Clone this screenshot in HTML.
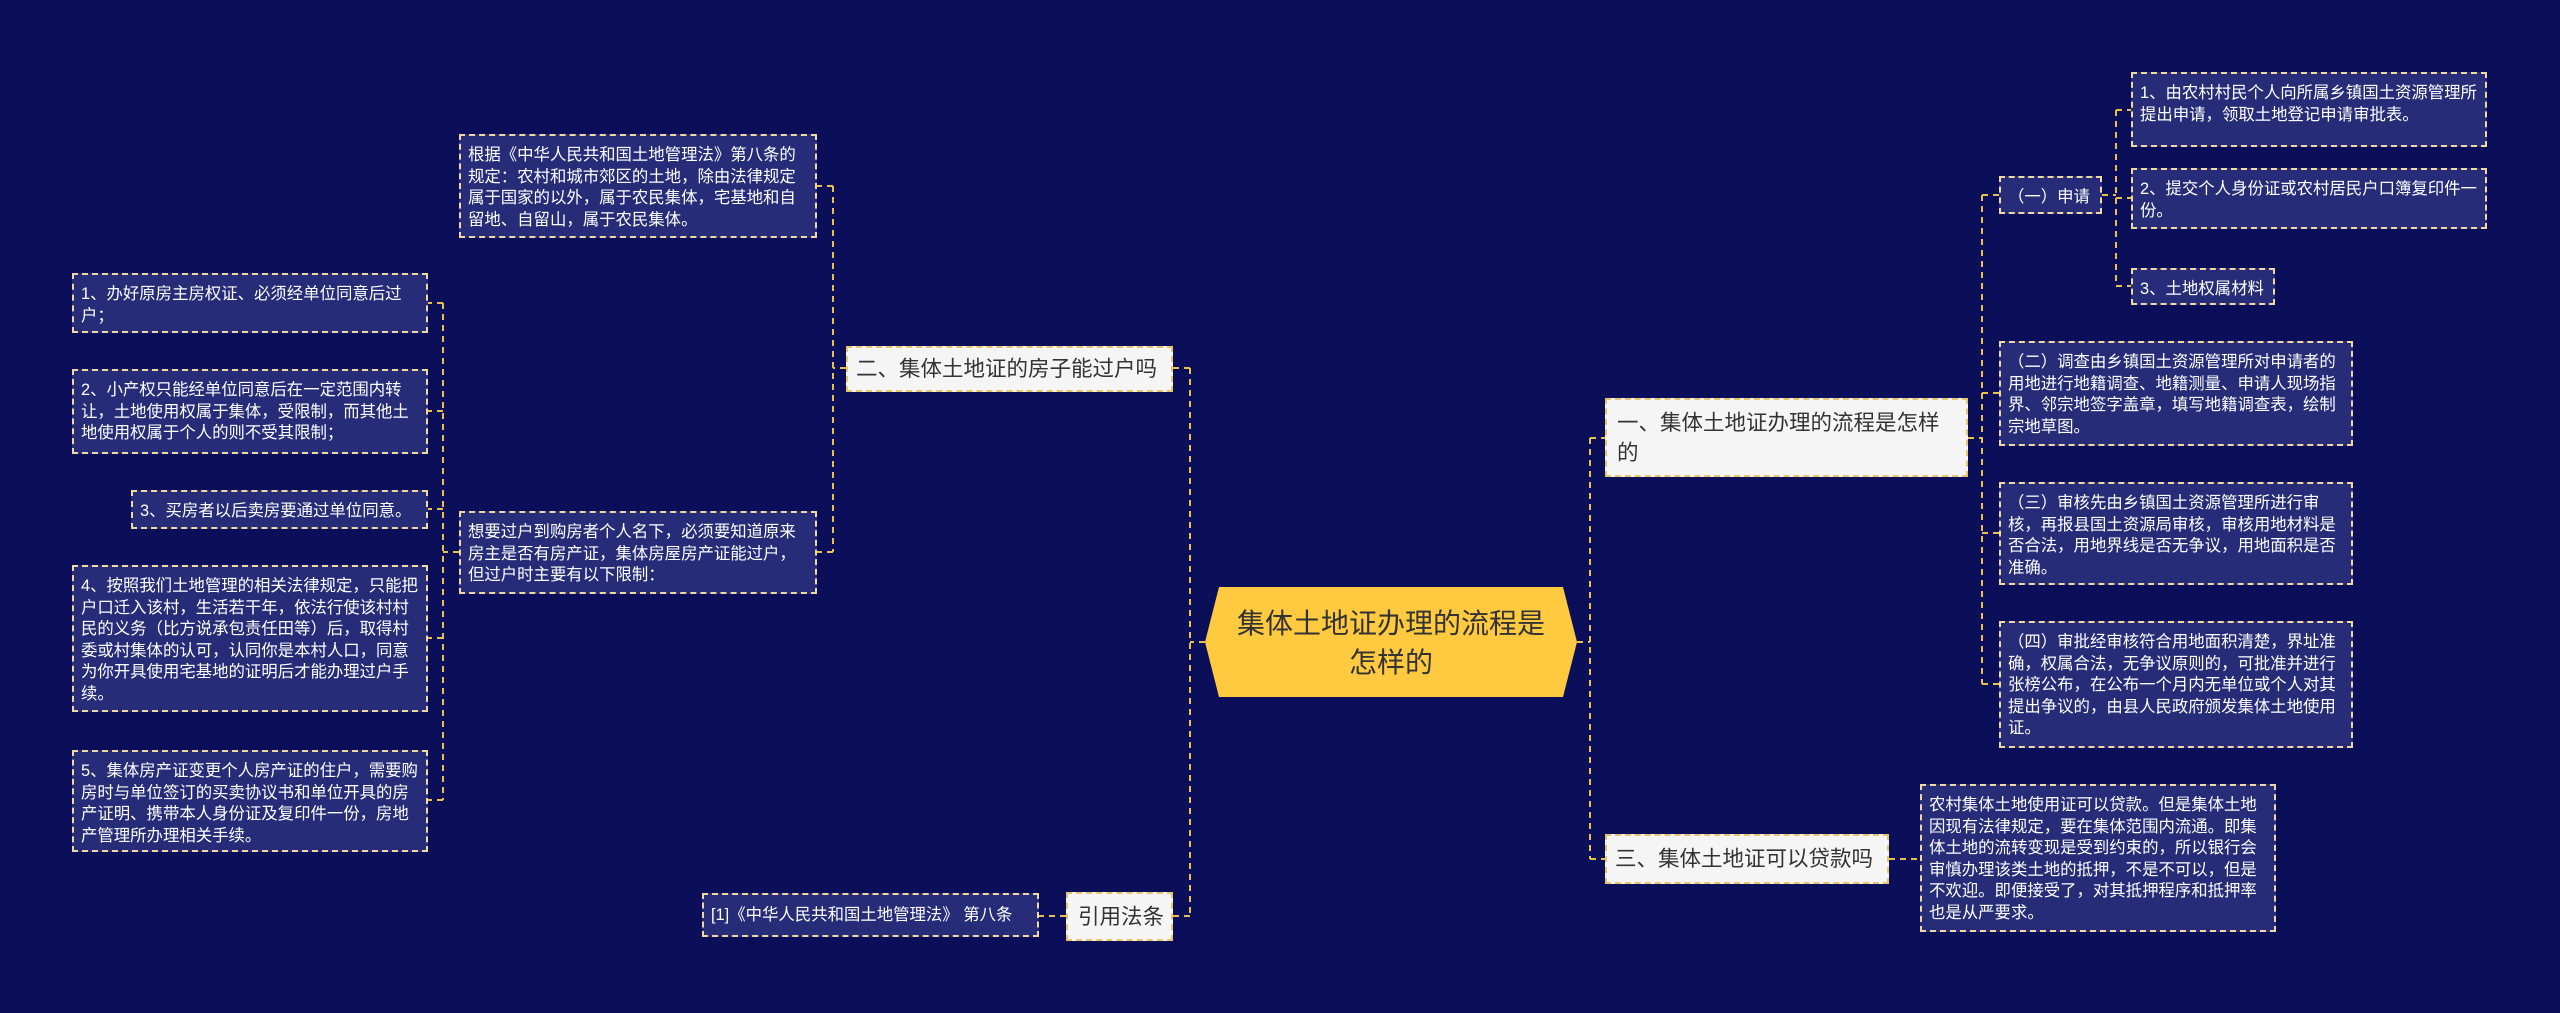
<!DOCTYPE html>
<html><head><meta charset="utf-8">
<style>
html,body{margin:0;padding:0}
body{width:2560px;height:1013px;background:#0b0e59;position:relative;overflow:hidden;font-family:"Liberation Sans","Noto Sans CJK SC",sans-serif}
.b{position:absolute;box-sizing:border-box;border:2px dashed #f0d8a0}
.leaf{background:#262c78;color:#fff;font-size:16.4px;line-height:21.6px;padding:9px 6px 7px 7px;}
.br{background:#f5f5f5;color:#333;font-size:21.5px;line-height:30px;padding:8px 8px;border-color:#e8c46a}
.nw{white-space:nowrap}
svg{position:absolute;left:0;top:0}
</style></head><body>
<svg width="2560" height="1013">
<g fill="none" stroke="#e8c050" stroke-width="2" stroke-dasharray="6,5">
<path d="M1205 642 H1190 M1190 368 V916 M1190 368 H1173 M1190 916 H1173"/>
<path d="M1577 642 H1590 M1590 438 V859 M1590 438 H1605 M1590 859 H1605"/>
<path d="M846 368 H833 M833 186 V552 M833 186 H817 M833 552 H817"/>
<path d="M459 552 H443 M443 303 V800 M443 303 H428 M443 411 H428 M443 509 H428 M443 638 H428 M443 800 H428"/>
<path d="M1066 916 H1039"/>
<path d="M1968 438 H1982 M1982 195 V684 M1982 195 H1999 M1982 393 H1999 M1982 533 H1999 M1982 684 H1999"/>
<path d="M2102 195 H2116 M2116 110 V286 M2116 110 H2131 M2116 198 H2131 M2116 286 H2131"/>
<path d="M1889 859 H1920"/>
</g>
<polygon points="1219,587 1563,587 1577,642 1563,697 1219,697 1205,642" fill="#ffc940"/>
<text x="1391" y="633" font-size="28" fill="#333" text-anchor="middle" font-family="Liberation Sans, Noto Sans CJK SC, sans-serif">集体土地证办理的流程是</text>
<text x="1391" y="672" font-size="28" fill="#333" text-anchor="middle" font-family="Liberation Sans, Noto Sans CJK SC, sans-serif">怎样的</text>
</svg>

<div class="b br nw" style="left:846px;top:346px;width:327px;height:46px;padding-top:6px">二、集体土地证的房子能过户吗</div>
<div class="b br nw" style="left:1066px;top:892px;width:107px;height:49px;padding-top:8px;padding-left:10px">引用法条</div>
<div class="b br" style="left:1605px;top:398px;width:363px;height:79px;padding:8px 22px 8px 10px">一、集体土地证办理的流程是怎样的</div>
<div class="b br nw" style="left:1605px;top:834px;width:284px;height:50px;padding-top:8px">三、集体土地证可以贷款吗</div>

<div class="b leaf" style="left:459px;top:134px;width:358px;height:104px">根据《中华人民共和国土地管理法》第八条的规定：农村和城市郊区的土地，除由法律规定属于国家的以外，属于农民集体，宅基地和自留地、自留山，属于农民集体。</div>
<div class="b leaf" style="left:459px;top:511px;width:358px;height:83px">想要过户到购房者个人名下，必须要知道原来房主是否有房产证，集体房屋房产证能过户，但过户时主要有以下限制：</div>
<div class="b leaf" style="left:72px;top:273px;width:356px;height:60px">1、办好原房主房权证、必须经单位同意后过户；</div>
<div class="b leaf" style="left:72px;top:369px;width:356px;height:85px">2、小产权只能经单位同意后在一定范围内转让，土地使用权属于集体，受限制，而其他土地使用权属于个人的则不受其限制；</div>
<div class="b leaf nw" style="left:131px;top:490px;width:297px;height:39px">3、买房者以后卖房要通过单位同意。</div>
<div class="b leaf" style="left:72px;top:565px;width:356px;height:147px">4、按照我们土地管理的相关法律规定，只能把户口迁入该村，生活若干年，依法行使该村村民的义务（比方说承包责任田等）后，取得村委或村集体的认可，认同你是本村人口，同意为你开具使用宅基地的证明后才能办理过户手续。</div>
<div class="b leaf" style="left:72px;top:750px;width:356px;height:102px">5、集体房产证变更个人房产证的住户，需要购房时与单位签订的买卖协议书和单位开具的房产证明、携带本人身份证及复印件一份，房地产管理所办理相关手续。</div>
<div class="b leaf nw" style="left:702px;top:893px;width:337px;height:44px;padding-top:10px">[1]《中华人民共和国土地管理法》 第八条</div>

<div class="b leaf nw" style="left:1999px;top:176px;width:103px;height:38px">（一）申请</div>
<div class="b leaf" style="left:2131px;top:72px;width:356px;height:75px">1、由农村村民个人向所属乡镇国土资源管理所提出申请，领取土地登记申请审批表。</div>
<div class="b leaf" style="left:2131px;top:168px;width:356px;height:61px">2、提交个人身份证或农村居民户口簿复印件一份。</div>
<div class="b leaf nw" style="left:2131px;top:268px;width:144px;height:37px">3、土地权属材料</div>
<div class="b leaf" style="left:1999px;top:341px;width:354px;height:105px">（二）调查由乡镇国土资源管理所对申请者的用地进行地籍调查、地籍测量、申请人现场指界、邻宗地签字盖章，填写地籍调查表，绘制宗地草图。</div>
<div class="b leaf" style="left:1999px;top:482px;width:354px;height:103px">（三）审核先由乡镇国土资源管理所进行审核，再报县国土资源局审核，审核用地材料是否合法，用地界线是否无争议，用地面积是否准确。</div>
<div class="b leaf" style="left:1999px;top:621px;width:354px;height:127px">（四）审批经审核符合用地面积清楚，界址准确，权属合法，无争议原则的，可批准并进行张榜公布，在公布一个月内无单位或个人对其提出争议的，由县人民政府颁发集体土地使用证。</div>
<div class="b leaf" style="left:1920px;top:784px;width:356px;height:148px">农村集体土地使用证可以贷款。但是集体土地因现有法律规定，要在集体范围内流通。即集体土地的流转变现是受到约束的，所以银行会审慎办理该类土地的抵押，不是不可以，但是不欢迎。即便接受了，对其抵押程序和抵押率也是从严要求。</div>
</body></html>
